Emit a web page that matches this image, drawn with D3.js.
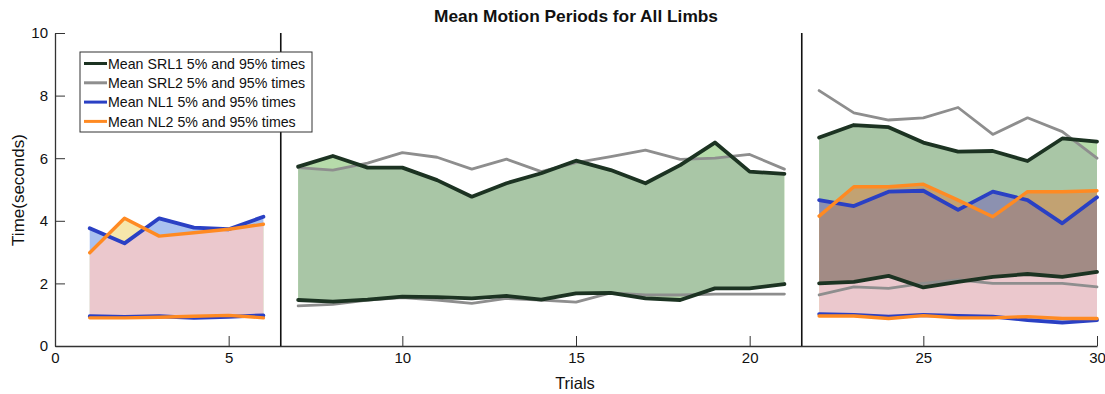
<!DOCTYPE html>
<html>
<head>
<meta charset="utf-8">
<script src="https://cdn.jsdelivr.net/npm/d3@7"></script>
<style>
  body { margin: 0; background: #fff; }
  text { font-family: "Liberation Sans", Arial, sans-serif; fill: #111; }
</style>
</head>
<body>
<svg id="chart"></svg>
<script>
// trial numbers for each block of the experiment
const blockA = [1, 2, 3, 4, 5, 6];
const blockB = [7, 8, 9, 10, 11, 12, 13, 14, 15, 16, 17, 18, 19, 20, 21];
const blockC = [22, 23, 24, 25, 26, 27, 28, 29, 30];

// block A : natural limbs only
const nl1Hi_A = [3.76, 3.28, 4.08, 3.78, 3.73, 4.13];
const nl1Lo_A = [0.95, 0.93, 0.95, 0.90, 0.93, 0.98];
const nl2Hi_A = [2.98, 4.08, 3.51, 3.62, 3.73, 3.89];
const nl2Lo_A = [0.90, 0.90, 0.92, 0.95, 0.98, 0.90];

// block B : supernumerary limbs only
const srl1Hi_B = [5.73, 6.07, 5.70, 5.70, 5.30, 4.77, 5.20, 5.52, 5.92, 5.62, 5.20, 5.78, 6.50, 5.57, 5.50];
const srl1Lo_B = [1.47, 1.42, 1.48, 1.58, 1.56, 1.52, 1.60, 1.48, 1.68, 1.70, 1.52, 1.47, 1.84, 1.84, 1.98];
const srl2Hi_B = [5.70, 5.62, 5.84, 6.18, 6.03, 5.65, 5.97, 5.57, 5.86, 6.05, 6.26, 5.96, 6.00, 6.12, 5.65];
const srl2Lo_B = [1.28, 1.33, 1.47, 1.55, 1.47, 1.36, 1.52, 1.47, 1.40, 1.70, 1.63, 1.63, 1.66, 1.66, 1.66];

// block C : all limbs
const srl1Hi_C = [6.66, 7.06, 6.99, 6.50, 6.21, 6.23, 5.91, 6.63, 6.53];
const srl1Lo_C = [2.00, 2.05, 2.24, 1.87, 2.05, 2.21, 2.30, 2.21, 2.37];
const srl2Hi_C = [8.16, 7.45, 7.22, 7.29, 7.62, 6.76, 7.29, 6.85, 6.00];
const srl2Lo_C = [1.63, 1.89, 1.84, 2.00, 2.11, 2.00, 2.00, 2.00, 1.89];
const nl1Hi_C = [4.66, 4.47, 4.93, 4.96, 4.35, 4.93, 4.66, 3.92, 4.75];
const nl1Lo_C = [1.02, 0.99, 0.94, 0.99, 0.96, 0.94, 0.83, 0.75, 0.83];
const nl2Hi_C = [4.15, 5.09, 5.09, 5.17, 4.66, 4.13, 4.93, 4.93, 4.96];
const nl2Lo_C = [0.96, 0.96, 0.88, 0.97, 0.90, 0.90, 0.94, 0.88, 0.88];

const blockEdges = [6.5, 21.5];
const xTicks = [0, 5, 10, 15, 20, 25, 30];
const yTicks = [0, 2, 4, 6, 8, 10];
const legendLabels = [
  "Mean SRL1 5% and 95% times",
  "Mean SRL2 5% and 95% times",
  "Mean NL1 5% and 95% times",
  "Mean NL2 5% and 95% times"
];

const width = 1105, height = 394;

const lineColour = { srl1: "#1c3322", srl2: "#8e8e8e", nl1: "#2a40c4", nl2: "#ff8a22" };
const lineWidth = { srl1: 3.8, srl2: 2.8, nl1: 3.8, nl2: 3.4 };

const rows = (trials, lo, hi) => trials.map((t, i) => ({ t: t, lo: lo[i], hi: hi[i] }));

const sections = [
  { id: "A", nl1: rows(blockA, nl1Lo_A, nl1Hi_A), nl2: rows(blockA, nl2Lo_A, nl2Hi_A) },
  { id: "B", srl1: rows(blockB, srl1Lo_B, srl1Hi_B), srl2: rows(blockB, srl2Lo_B, srl2Hi_B) },
  { id: "C", srl1: rows(blockC, srl1Lo_C, srl1Hi_C), srl2: rows(blockC, srl2Lo_C, srl2Hi_C),
    nl1: rows(blockC, nl1Lo_C, nl1Hi_C), nl2: rows(blockC, nl2Lo_C, nl2Hi_C) }
];

const x = d3.scaleLinear().domain([0, 30]).range([55, 1097]);
const y = d3.scaleLinear().domain([0, 10]).range([346, 33]);

const area = d3.area().x(d => x(d.t)).y0(d => y(d.lo)).y1(d => y(d.hi));
const lineHi = d3.line().x(d => x(d.t)).y(d => y(d.hi));
const lineLo = d3.line().x(d => x(d.t)).y(d => y(d.lo));

const svg = d3.select("#chart").attr("width", width).attr("height", height);
const defs = svg.append("defs");

// clip paths so that overlapping bands get their own blended colour
sections.forEach(sec => {
  ["srl1", "nl1"].forEach(key => {
    if (!sec[key]) return;
    defs.append("clipPath").attr("id", `clip-${sec.id}-${key}`)
      .append("path").attr("d", area(sec[key]));
  });
});

const fills = svg.append("g");

sections.forEach(sec => {
  const g = fills.append("g");
  if (sec.srl1) {
    g.append("path").attr("d", area(sec.srl1)).attr("fill", "#b6dbaa");
    g.append("g").attr("clip-path", `url(#clip-${sec.id}-srl1)`)
      .append("path").attr("d", area(sec.srl2)).attr("fill", "#a9c6a6");
  }
  if (sec.nl1) {
    g.append("path").attr("d", area(sec.nl1)).attr("fill", "#a9c1ef");
    g.append("path").attr("d", area(sec.nl2)).attr("fill", "#f6e7ab");
    g.append("path").attr("d", area(sec.nl2)).attr("fill", "#ebc8cd")
      .attr("clip-path", `url(#clip-${sec.id}-nl1)`);
  }
  if (sec.srl1 && sec.nl1) {
    const inner = g.append("g").attr("clip-path", `url(#clip-${sec.id}-srl1)`);
    inner.append("path").attr("d", area(sec.nl1)).attr("fill", "#8c91b0");
    inner.append("path").attr("d", area(sec.nl2)).attr("fill", "#c2a272");
    inner.append("path").attr("d", area(sec.nl2)).attr("fill", "#a28b85")
      .attr("clip-path", `url(#clip-${sec.id}-nl1)`);
  }
});

// series lines
const lines = svg.append("g").attr("fill", "none")
  .attr("stroke-linejoin", "round").attr("stroke-linecap", "round");

["srl2", "srl1", "nl1", "nl2"].forEach(key => {
  sections.forEach(sec => {
    if (!sec[key]) return;
    [lineLo, lineHi].forEach(fn => {
      lines.append("path").attr("d", fn(sec[key]))
        .attr("stroke", lineColour[key]).attr("stroke-width", lineWidth[key]);
    });
  });
});

// axes
const xAxis = svg.append("g").attr("transform", `translate(0,${y(0)})`)
  .call(d3.axisBottom(x).tickValues(xTicks).tickSizeInner(-10).tickSizeOuter(0).tickPadding(6));
const yAxis = svg.append("g").attr("transform", `translate(${x(0)},0)`)
  .call(d3.axisLeft(y).tickValues(yTicks).tickSizeInner(-10).tickSizeOuter(0).tickPadding(7));

[xAxis, yAxis].forEach(ax => {
  ax.select(".domain").attr("stroke", "#333").attr("stroke-width", 1.3);
  ax.selectAll(".tick line").attr("stroke", "#333");
  ax.selectAll(".tick text").attr("font-size", 15).attr("fill", "#111")
    .attr("font-family", '"Liberation Sans", Arial, sans-serif');
});

// block separators
svg.append("g").selectAll("line").data(blockEdges).join("line")
  .attr("x1", d => x(d)).attr("x2", d => x(d))
  .attr("y1", y(10)).attr("y2", y(0))
  .attr("stroke", "#111").attr("stroke-width", 1.6);

// titles
svg.append("text").attr("x", 576).attr("y", 22).attr("text-anchor", "middle")
  .attr("font-size", 17).attr("font-weight", "bold")
  .attr("textLength", 284).attr("lengthAdjust", "spacingAndGlyphs")
  .text("Mean Motion Periods for All Limbs");

svg.append("text").attr("x", 575).attr("y", 389).attr("text-anchor", "middle")
  .attr("font-size", 16.5).text("Trials");

svg.append("text").attr("transform", "translate(24,190) rotate(-90)")
  .attr("text-anchor", "middle").attr("font-size", 17).text("Time(seconds)");

// legend
const legend = svg.append("g").attr("transform", "translate(80,52)");
legend.append("rect").attr("width", 232).attr("height", 80)
  .attr("fill", "#fff").attr("stroke", "#333").attr("stroke-width", 1);

const keys = ["srl1", "srl2", "nl1", "nl2"];
keys.forEach((key, i) => {
  const ly = 11.5 + i * 19.3;
  legend.append("line").attr("x1", 4).attr("x2", 27).attr("y1", ly).attr("y2", ly)
    .attr("stroke", lineColour[key]).attr("stroke-width", 3);
  legend.append("text").attr("x", 28).attr("y", ly).attr("dy", "0.36em")
    .attr("font-size", 14.2).text(legendLabels[i]);
});
</script>
</body>
</html>
